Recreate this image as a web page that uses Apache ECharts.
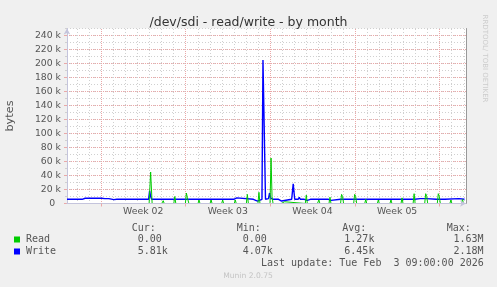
<!DOCTYPE html>
<html><head><meta charset="utf-8">
<script src="https://cdn.jsdelivr.net/npm/echarts@6/dist/echarts.min.js"></script>
<style>html,body{margin:0;padding:0;background:#f0f0f0}#c{width:497px;height:287px}</style>
</head><body><div id="c"></div>
<script>
// ---- chart text ----
const chartTitle = '/dev/sdi - read/write - by month';
const yAxisName = 'bytes';
const weekLabels = ['Week 02', 'Week 03', 'Week 04', 'Week 05'];
// time axis in hours since graph start (33 days = 792 h)
const spanHours = 792;
const weekCenterHours = [151.2, 319.2, 487.2, 655.2];
const mondayHours = [67.2, 235.2, 403.2, 571.2, 739.2];
const firstMidnightHour = 19.2;
const yMax = 250000;
// ---- series values: [hour, bytes] ----
const writeData = [
  [0,6000],[2,7500],[5,6000],[24,6000],[27,7500],[30,6000],[36,7500],[69,7500],[72,9500],[75,7000],
  [83,7000],[86,5000],[93,5500],[96,7500],[99,6000],[119,6000],[122,7000],[125,6000],[143,6000],[146,7000],
  [149,6000],[162,6000],[164,18000],[166,10000],[168,6000],[186,6000],[189,8000],[192,6000],[212,6000],[215,8000],
  [218,6000],[259,6000],[262,8000],[265,6000],[281,6000],[284,8000],[287,6000],[331,6000],[334,8000],[337,8000],
  [340,6000],[370,6000],[373,3500],[378,3500],[381,6000],[387,6000],[389,205000],[391,204000],[394,6000],[400,7000],
  [402,15000],[404,8000],[406,10000],[408,6000],[420,6000],[423,3500],[426,3500],[429,6000],[446,6000],[449,28000],
  [452,6000],[459,6000],[461,9000],[463,6000],[471,6000],[474,8000],[477,4500],[480,6500],[483,6000],[495,6000],
  [498,3500],[501,6000],[519,6000],[521,8000],[524,4500],[527,6000],[543,6000],[546,8000],[548,6000],[568,6000],
  [571,8000],[574,6000],[588,6000],[591,8000],[594,6000],[614,6000],[617,3500],[620,6000],[640,6000],[643,3500],
  [645,6000],[661,6000],[664,7500],[667,6000],[684,6000],[687,8000],[690,6000],[701,7000],[713,7000],[716,6000],
  [733,6000],[736,8000],[739,6000],[750,6000],[753,7000],[778,7000],[781,6000],[789,6000]
];
const readData = [
  [0,0],[163,0],[166,45000],[169,0],[188,0],[191,4000],[193,0],[212,0],[214,10000],[216,0],
  [235,0],[237,15000],[239,8000],[242,0],[260,0],[262,5000],[264,0],[284,0],[286,5000],[288,0],
  [307,0],[309,5000],[311,0],[332,0],[334,5000],[336,0],[356,0],[358,13000],[360,0],[379,0],
  [381,16000],[383,0],[403,0],[405,65000],[407,10000],[409,0],[425,0],[427,2500],[432,2500],[434,0],
  [473,0],[475,12000],[477,0],[497,0],[500,5000],[502,0],[520,0],[522,9000],[524,0],[543,0],
  [545,13000],[547,10000],[549,0],[569,0],[571,13000],[573,10000],[575,0],[591,0],[593,6000],[595,0],
  [616,0],[618,5000],[620,0],[641,0],[643,5000],[645,0],[663,0],[665,8000],[667,0],[687,0],
  [689,14000],[691,0],[710,0],[712,14000],[714,10000],[716,0],[735,0],[737,14000],[739,10000],[741,0],
  [760,0],[762,5000],[764,0],[783,0],[785,6000],[787,0],[789,0]
];
// ---- legend ----
const seriesNames = ['Read', 'Write'];
const seriesColors = ['#00cc00', '#0000ff'];
const statHeaders = ['Cur:', 'Min:', 'Avg:', 'Max:'];
const readStats = ['0.00', '0.00', '1.27k', '1.63M'];
const writeStats = ['5.81k', '4.07k', '6.45k', '2.18M'];
const lastUpdate = 'Last update: Tue Feb  3 09:00:00 2026';
const footer = 'Munin 2.0.75';
const watermark = 'RRDTOOL/ TOBI OETIKER';

// minor day lines (not Mondays)
const dayLines = [];
for (let k = 0; k < 33; k++) {
  const h = Math.round((firstMidnightHour + 24 * k) * 10) / 10;
  if (mondayHours.indexOf(h) < 0 && h < spanHours) dayLines.push(h);
}

const SANS = 'DejaVu Sans', MONO = 'DejaVu Sans Mono';
const GRID = {left: 67, top: 28.5, width: 399, height: 175};
const red = '#eaa8a8', gray = '#d0d0d0', axisCol = '#c4c4dc', textCol = '#555';

const statX = [131.7, 236.7, 342.3, 446.7];
const valX = [137.7, 242.7, 344.3, 453.5];
const graphic = [];
function txt(x, y, s, font, size, color, align) {
  graphic.push({type: 'text', x: x, y: y, style: {text: s, font: size + 'px "' + font + '"', fill: color, textAlign: align || 'left', textVerticalAlign: 'middle'}});
}
statHeaders.forEach((s, i) => txt(statX[i], 228.5, s, MONO, 10, textCol));
[readStats, writeStats].forEach((arr, r) => {
  const y = 239.5 + r * 12;
  graphic.push({type: 'rect', shape: {x: 14, y: y - 3, width: 6, height: 6}, style: {fill: seriesColors[r]}});
  txt(26, y, seriesNames[r], MONO, 10, textCol);
  arr.forEach((s, i) => txt(valX[i], y, s, MONO, 10, textCol));
});
txt(261, 263.5, lastUpdate, MONO, 10, textCol);
txt(248, 276, footer, SANS, 7.6, '#c4c4c4', 'center');
txt(10.5, GRID.top + GRID.height / 2, yAxisName, SANS, 11.3, textCol, 'center');
graphic[graphic.length - 1].rotation = Math.PI / 2;
txt(484.5, 58.5, watermark, SANS, 7, '#cccccc', 'center');
graphic[graphic.length - 1].rotation = -Math.PI / 2;

// vertical grid lines drawn through the x scale, snapped to pixel centres
function vLines(values, color, dash, z) {
  return {type: 'custom', silent: true, z: z, data: values.map(v => [v, 0]),
    encode: {x: 0, y: 1},
    renderItem: function (params, api) {
      const cs = params.coordSys;
      const x = Math.round(api.coord([api.value(0), 0])[0]) + 0.5;
      const yb = Math.round(cs.y + cs.height);
      return {type: 'line', shape: {x1: x, y1: yb, x2: x, y2: Math.round(cs.y)},
        style: {stroke: color, lineWidth: 1, lineDash: dash}};
    }};
}

const chart = echarts.init(document.getElementById('c'), null, {renderer: 'canvas'});
chart.setOption({
  animation: false,
  backgroundColor: '#f0f0f0',
  title: {text: chartTitle, left: 'center', top: 11, textStyle: {fontFamily: SANS, fontSize: 12.5, fontWeight: 'normal', color: '#333'}},
  grid: Object.assign({show: true, backgroundColor: '#ffffff', borderWidth: 0}, GRID),
  xAxis: [
    {type: 'value', min: 0, max: spanHours, position: 'bottom', z: 5,
     axisLine: {show: true, symbol: ['none', 'arrow'], symbolSize: [5, 6], lineStyle: {color: axisCol, width: 1}},
     axisTick: {show: true, customValues: mondayHours, length: 3, lineStyle: {color: red}},
     splitLine: {show: false},
     axisLabel: {show: true, customValues: weekCenterHours, margin: 4, fontFamily: SANS, fontSize: 9.3, color: textCol,
       formatter: v => { let b = 0; weekCenterHours.forEach((c, i) => { if (Math.abs(c - v) < Math.abs(weekCenterHours[b] - v)) b = i; }); return weekLabels[b]; }}}
  ],
  yAxis: [
    {type: 'value', min: 0, max: yMax, interval: 10000, z: 0,
     axisLine: {show: false},
     axisTick: {show: true, length: 2, lineStyle: {color: gray}},
     splitLine: {show: true, lineStyle: {color: gray, type: [1, 2], width: 1}},
     axisLabel: {show: false}},
    {type: 'value', min: 0, max: yMax, interval: 20000, z: 1, position: 'left',
     axisLine: {show: true, symbol: ['none', 'arrow'], symbolSize: [5, 6], lineStyle: {color: axisCol, width: 1}},
     axisTick: {show: true, length: 3, lineStyle: {color: red}},
     splitLine: {show: true, showMinLine: false, showMaxLine: false, lineStyle: {color: red, type: [1, 1], width: 1}},
     axisLabel: {margin: 6, fontFamily: SANS, fontSize: 9.3, color: textCol, showMaxLabel: false,
       formatter: v => (v % 20000 !== 0 || v >= yMax) ? '' : (v === 0 ? '0  ' : (v / 1000) + ' k')}},
    {type: 'value', min: 0, max: yMax, position: 'right', z: 5,
     axisLine: {show: true, lineStyle: {color: '#999999', width: 1}},
     axisTick: {show: false}, axisLabel: {show: false}, splitLine: {show: false}}
  ],
  series: [
    vLines(dayLines, gray, [1, 2], 1),
    vLines(mondayHours, red, [1, 1], 1.5),
    {name: seriesNames[1], type: 'line', data: writeData, showSymbol: false, z: 2,
     lineStyle: {color: seriesColors[1], width: 1.4}, itemStyle: {color: seriesColors[1]}},
    {name: seriesNames[0], type: 'line', data: readData, showSymbol: false, z: 3,
     lineStyle: {color: seriesColors[0], width: 1}, itemStyle: {color: seriesColors[0]}}
  ],
  graphic: graphic
});
</script></body></html>
